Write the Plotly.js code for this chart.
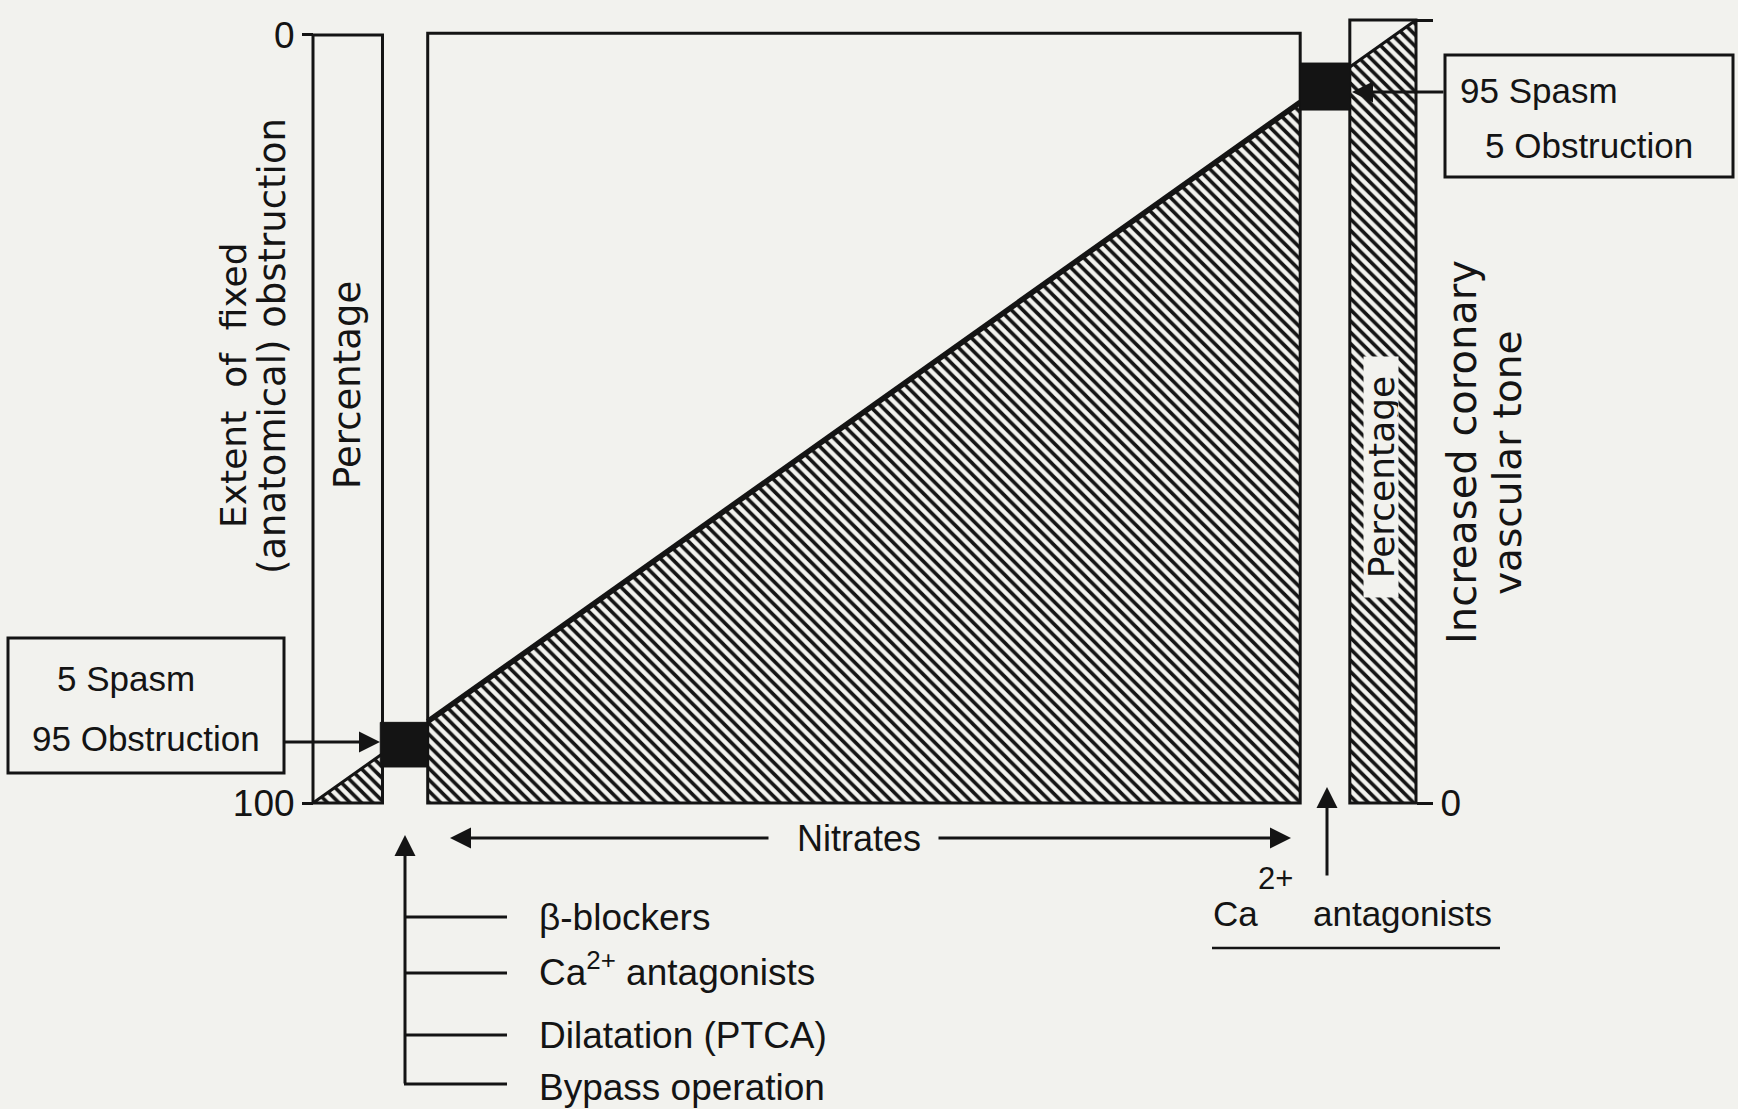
<!DOCTYPE html>
<html><head><meta charset="utf-8">
<script src="https://cdn.plot.ly/plotly-3.0.1.min.js"></script>
<style>html,body{margin:0;padding:0;background:#f2f2ee;} #chart{width:1738px;height:1109px;}</style>
</head><body><div id="chart"></div>
<script>
// ---------------- data ----------------
// three zones along the spasm scale (0 = pure obstruction, 100 = pure spasm)
const zoneLabels = ['Percentage', 'Nitrates', 'Percentage'];
const zoneStart  = [0, 10.4, 94.0];
const zoneEnd    = [6.3, 89.5, 100];
const zoneTop    = [98.1, 98.3, 100];
// the diagonal: share of spasm (increased vascular tone) along the scale
const lineX      = [0, 100];
const lineSpasm  = [0, 100];
// the two black marker blocks (5/95 and 95/5)
const blockStart = [6.1, 89.5];
const blockEnd   = [10.4, 94.0];
const blockLow   = [4.6, 88.5];
const blockHigh  = [10.3, 94.5];
// axis ticks
const obstructionTicks = [0, 100];
const spasmTicks       = [0, 100];
// texts
const leftBox   = ['5 Spasm', '95 Obstruction'];
const rightBox  = ['95 Spasm', '5 Obstruction'];
const therapies = ['β-blockers', 'Ca<sup>2+</sup> antagonists', 'Dilatation (PTCA)', 'Bypass operation'];

// ---------------- geometry ----------------
const W = 1738, H = 1109;
const PXL = 313, PXR = 1416, PYB = 803, PYT = 20;
const sx = (PXR - PXL) / 100, sy = (PYB - PYT) / 100;
const px2x = p => (p - PXL) / sx;
const py2y = p => (PYB - p) / sy;
const xRange = [px2x(0), px2x(W)];
const yRange = [py2y(H), py2y(0)];
const obs = y => 100 - y * 100 / zoneTop[0];

const INK = '#141414', BG = '#f2f2ee';
const SANS = 'Liberation Sans, Arial, sans-serif';
const WIDE = 'DejaVu Sans, sans-serif';
const NB = '\u00a0';

function spasmAt(x) {
  const t = (x - lineX[0]) / (lineX[1] - lineX[0]);
  return lineSpasm[0] + t * (lineSpasm[1] - lineSpasm[0]);
}

const traces = [];
zoneLabels.forEach((name, i) => {
  const s = zoneStart[i], e = zoneEnd[i];
  traces.push({
    type: 'scatter', mode: 'none', x: [s, s, e, e, s], y: [0, spasmAt(s), spasmAt(e), 0, 0],
    fill: 'toself', fillcolor: BG,
    fillpattern: {shape: '\\', fgcolor: INK, bgcolor: BG, size: 8, solidity: 0.45},
    hoverinfo: 'skip', showlegend: false, name: name
  });
});
zoneLabels.forEach((name, i) => {
  const s = zoneStart[i], e = zoneEnd[i], t = zoneTop[i];
  traces.push({
    type: 'scatter', mode: 'lines', x: [s, s, e, e, s, s], y: [0, t, t, 0, 0, t],
    line: {color: INK, width: 3}, hoverinfo: 'skip', showlegend: false
  });
  traces.push({
    type: 'scatter', mode: 'lines', x: [s, e], y: [spasmAt(s), spasmAt(e)],
    line: {color: INK, width: i === 1 ? 5.5 : 3}, hoverinfo: 'skip', showlegend: false
  });
});
blockStart.forEach((s, i) => {
  const e = blockEnd[i], lo = blockLow[i], hi = blockHigh[i];
  traces.push({
    type: 'scatter', mode: 'lines', x: [s, s, e, e, s], y: [lo, hi, hi, lo, lo],
    fill: 'toself', fillcolor: INK, line: {color: INK, width: 1},
    hoverinfo: 'skip', showlegend: false
  });
});

// ---------------- annotations ----------------
const annotations = [];
function txt(text, px, py, o) {
  annotations.push(Object.assign({
    text: text, x: px2x(px), y: py2y(py), xref: 'x', yref: 'y',
    showarrow: false, xanchor: 'left', yanchor: 'middle',
    font: {family: SANS, size: 35, color: INK}
  }, o || {}));
}
function arrow(hx, hy, tx, ty) {
  annotations.push({
    text: '', x: px2x(hx), y: py2y(hy), ax: px2x(tx), ay: py2y(ty),
    xref: 'x', yref: 'y', axref: 'x', ayref: 'y', showarrow: true,
    arrowhead: 2, arrowsize: 1.4, arrowwidth: 3, arrowcolor: INK, standoff: 0
  });
}

// rotated labels
txt('Extent' + NB + NB + 'of' + NB + NB + 'fixed', 233, 385, {textangle: -90, xanchor: 'center', font: {family: WIDE, size: 36, color: INK}});
txt('(anatomical) obstruction', 272, 346, {textangle: -90, xanchor: 'center', font: {family: WIDE, size: 37, color: INK}});
txt(zoneLabels[0], 347, 385, {textangle: -90, xanchor: 'center', font: {family: WIDE, size: 37, color: INK}});
txt(zoneLabels[2], 1381, 477, {textangle: -90, xanchor: 'center', bgcolor: BG, borderpad: 0, height: 34, width: 240,
  font: {family: WIDE, size: 36, color: INK}});
txt('Increased' + NB + 'coronary', 1462, 452, {textangle: -90, xanchor: 'center', font: {family: WIDE, size: 40, color: INK}});
txt('vascular tone', 1507, 463, {textangle: -90, xanchor: 'center', font: {family: WIDE, size: 39, color: INK}});

// boxes
txt(leftBox[0], 55, 678);
txt(leftBox[1], 30, 738);
txt(rightBox[0], 1458, 90);
txt(rightBox[1], 1483, 145);
arrow(380, 742, 283, 742);
arrow(1352, 92, 1445, 92);

// Nitrates
txt(zoneLabels[1], 859, 838, {xanchor: 'center', font: {family: SANS, size: 36, color: INK}});
arrow(450, 838, 770, 838);
arrow(1291, 838, 937, 838);

// therapy list
const therapyY = [917, 973, 1035, 1087];
therapies.forEach((t, i) => txt(t, 537, therapyY[i] + (i === 1 ? -4 : 0), {font: {family: SANS, size: 37, color: INK}}));
arrow(405, 835, 405, 1085);

// right Ca2+ antagonists
txt('Ca', 1211, 913);
txt('2+', 1256, 878, {font: {family: SANS, size: 31, color: INK}});
txt('antagonists', 1311, 913);
arrow(1327, 787, 1327, 877);

// ---------------- shapes ----------------
const shapes = [];
function rect(x0, y0, x1, y1) {
  shapes.push({type: 'rect', xref: 'x', yref: 'y', x0: px2x(x0), x1: px2x(x1), y0: py2y(y0), y1: py2y(y1),
    line: {color: INK, width: 3}, fillcolor: 'rgba(0,0,0,0)'});
}
function seg(x0, y0, x1, y1, w) {
  shapes.push({type: 'line', xref: 'x', yref: 'y', x0: px2x(x0), x1: px2x(x1), y0: py2y(y0), y1: py2y(y1),
    line: {color: INK, width: w || 3}});
}
rect(8, 638, 284, 773);
rect(1445, 55, 1733, 177);
const branchY = [917, 973, 1035, 1084];
branchY.forEach(y => seg(404, y, 507, y, 3));
seg(1212, 948, 1500, 948, 2.5);

const layout = {
  width: W, height: H, margin: {l: 0, r: 0, t: 0, b: 0, pad: 0},
  paper_bgcolor: BG, plot_bgcolor: BG, showlegend: false,
  xaxis: {domain: [0, 1], range: xRange, visible: false, fixedrange: true},
  yaxis: {domain: [0, 1], range: yRange, anchor: 'free', position: PXR / W, side: 'right',
    tickvals: spasmTicks, ticktext: spasmTicks.map(String), ticks: 'outside', ticklen: 16, tickwidth: 3,
    tickcolor: INK, showgrid: false, zeroline: false, showline: false, fixedrange: true,
    tickfont: {family: SANS, size: 37, color: INK}},
  yaxis2: {overlaying: 'y', range: [obs(yRange[0]), obs(yRange[1])], anchor: 'free', position: PXL / W, side: 'left',
    tickvals: obstructionTicks, ticktext: obstructionTicks.map(String), ticks: 'outside', ticklen: 11, tickwidth: 3,
    tickcolor: INK, showgrid: false, zeroline: false, showline: false, fixedrange: true,
    tickfont: {family: SANS, size: 37, color: INK}},
  annotations: annotations, shapes: shapes
};
// invisible trace that activates the left (obstruction) axis
traces.push({type: 'scatter', mode: 'none', x: [0], y: [50], yaxis: 'y2', hoverinfo: 'skip', showlegend: false});

Plotly.newPlot('chart', traces, layout, {displayModeBar: false, staticPlot: true});
</script>
</body></html>
